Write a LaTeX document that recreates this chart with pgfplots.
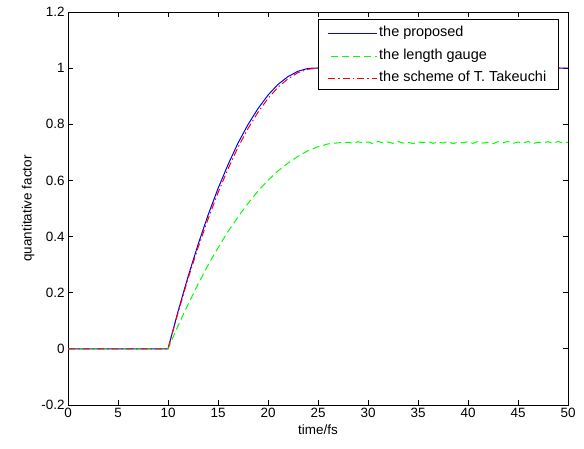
\documentclass[border=0pt]{standalone}
\usepackage{pgfplots}
\pgfplotsset{compat=1.18}
\usepackage{fontspec}
\setmainfont{Liberation Sans}
\definecolor{mblue}{RGB}{0,0,255}
\definecolor{mgreen}{RGB}{0,255,0}
\definecolor{mred}{RGB}{255,0,0}
\begin{document}
\begin{tikzpicture}
\begin{axis}[
  name=ax,
  width=500bp,height=393bp,scale only axis,
  xmin=0,xmax=50,ymin=-0.2,ymax=1.2,
  xtick={0,5,...,50},
  ytick={-0.2,0,0.2,0.4,0.6,0.8,1,1.2},
  tick align=inside,
  major tick length=5bp,
  axis line style={line width=0.8bp},
  every tick/.style={black,line width=0.8bp},
  /pgf/number format/assume math mode=true,
  /pgf/number format/fixed,
  ticklabel style={font=\fontsize{13.5}{16}\selectfont},
  label style={font=\fontsize{13.5}{16}\selectfont},
  xlabel={time/fs},
  ylabel={quantitative factor},
]
\addplot[color=mblue,line width=1bp] coordinates {
(0,0) (10,0) (11,0.133) (12,0.257) (13,0.371) (14,0.476) (15,0.571)
(16,0.656) (17,0.733) (18,0.799) (19,0.856) (20,0.904) (21,0.942)
(22,0.970) (23,0.989) (24,0.999) (24.5,1.0) (30,1.0) (40,1.0) (50,1.0)};
\addplot[color=mgreen,line width=1bp,dash pattern=on 7bp off 4bp] coordinates {
(0,0) (10,0) (11,0.082) (12,0.158) (13,0.230) (14,0.298) (15,0.360)
(16,0.418) (17,0.470) (18,0.518) (19,0.562) (20,0.600) (21,0.634)
(22,0.662) (23,0.686) (24,0.706) (25,0.720) (26,0.730) (27,0.734)
(27.5,0.735) (28,0.736) (28.5,0.732) (29,0.738) (29.5,0.733) (30,0.737)
(30.5,0.731) (31,0.739) (31.5,0.734) (32,0.737) (32.5,0.732) (33,0.739)
(33.5,0.733) (34,0.736) (34.5,0.731) (35,0.738) (35.5,0.734) (36,0.739)
(36.5,0.732) (37,0.737) (37.5,0.733) (38,0.739) (38.5,0.731) (39,0.736)
(39.5,0.734) (40,0.738) (40.5,0.732) (41,0.739) (41.5,0.733) (42,0.736)
(42.5,0.731) (43,0.738) (43.5,0.734) (44,0.739) (44.5,0.732) (45,0.737)
(45.5,0.733) (46,0.739) (46.5,0.731) (47,0.736) (47.5,0.734) (48,0.738)
(48.5,0.732) (49,0.739) (49.5,0.733) (50,0.736)};
\addplot[color=mred,line width=1bp,dash pattern=on 7bp off 3bp on 1.5bp off 3bp] coordinates {
(0,0) (10,0) (11,0.128) (12,0.250) (13,0.360) (14,0.462) (15,0.556)
(16,0.641) (17,0.718) (18,0.785) (19,0.843) (20,0.892) (21,0.932)
(22,0.962) (23,0.984) (24,0.996) (25,1.0) (30,1.0) (40,1.0) (50,1.0)};
% legend box, MATLAB style
\draw[line width=0.8bp,fill=white] (axis cs:25,0.9227) rectangle (axis cs:49,1.172);
\draw[mblue,line width=1.2bp] (axis cs:26,1.1222) -- (axis cs:30.9,1.1222);
\draw[mgreen,line width=1.2bp,dash pattern=on 7bp off 4bp] (axis cs:26.3,1.0403) -- (axis cs:30.9,1.0403);
\draw[mred,line width=1.2bp,dash pattern=on 7bp off 3bp on 1.5bp off 3bp] (axis cs:26,0.9619) -- (axis cs:30.9,0.9619);
\begin{scope}[every node/.style={anchor=mid west,inner sep=0pt,font=\fontsize{14.5}{17}\selectfont}]
\node at (axis cs:31.1,1.1222) {the proposed};
\node at (axis cs:31.1,1.0403) {the length gauge};
\node at (axis cs:31.1,0.9619) {the scheme of T. Takeuchi};
\end{scope}
\end{axis}
\path ([shift={(-68bp,-43bp)}]ax.south west) rectangle ([shift={(16bp,12bp)}]ax.north east);
\end{tikzpicture}
\end{document}
